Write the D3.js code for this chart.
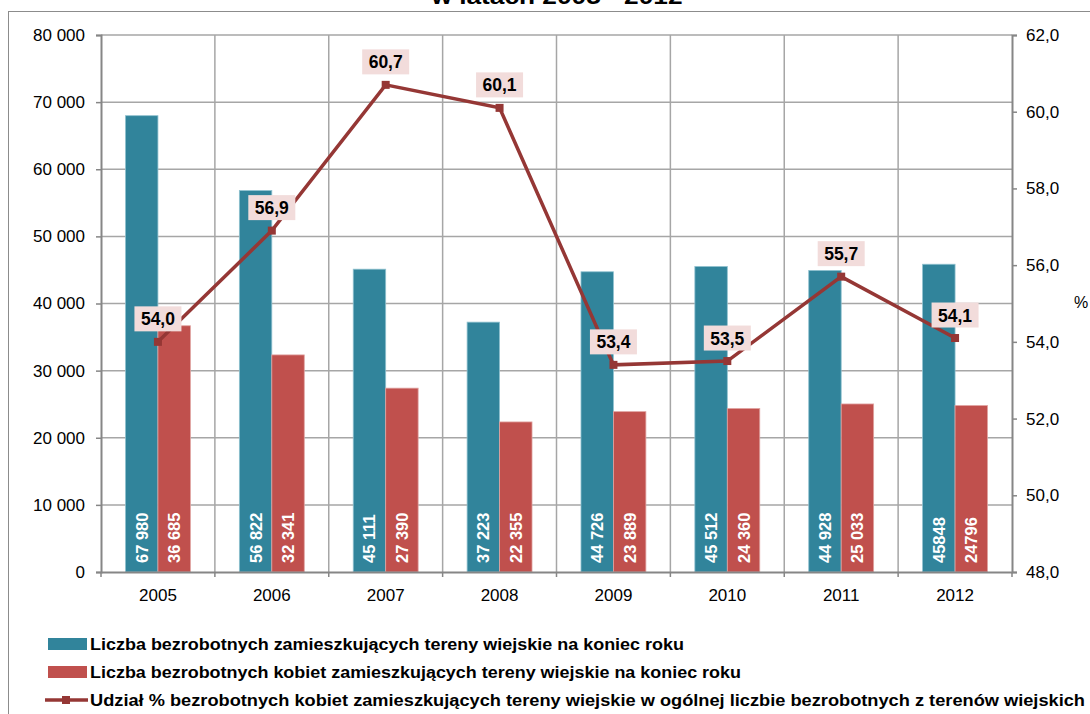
<!DOCTYPE html>
<html>
<head>
<meta charset="utf-8">
<script src="https://cdn.jsdelivr.net/npm/d3@7"></script>
<style>
  body { margin: 0; background: #fff; }
  svg { display: block; font-family: "Liberation Sans", Arial, sans-serif; }
</style>
</head>
<body>
<div id="chart"></div>
<script>
// data
var years = ["2005", "2006", "2007", "2008", "2009", "2010", "2011", "2012"];
var allRural = [67980, 56822, 45111, 37223, 44726, 45512, 44928, 45848];
var womenRural = [36685, 32341, 27390, 22355, 23889, 24360, 25033, 24796];
var womenShare = [54.0, 56.9, 60.7, 60.1, 53.4, 53.5, 55.7, 54.1];
var allLabels = ["67 980", "56 822", "45 111", "37 223", "44 726", "45 512", "44 928", "45848"];
var womenLabels = ["36 685", "32 341", "27 390", "22 355", "23 889", "24 360", "25 033", "24796"];
var leftTicks = [0, 10000, 20000, 30000, 40000, 50000, 60000, 70000, 80000];
var rightTicks = [48, 50, 52, 54, 56, 58, 60, 62];
var seriesNames = [
	"Liczba bezrobotnych  zamieszkujących tereny wiejskie na koniec roku",
	"Liczba bezrobotnych  kobiet zamieszkujących tereny wiejskie na koniec roku",
	"Udział % bezrobotnych  kobiet zamieszkujących tereny wiejskie w ogólnej  liczbie  bezrobotnych  z terenów wiejskich"
];
var titleText = "w latach 2005 - 2012";

var W = 1090, H = 714;
var plot = {left: 101, right: 1012, top: 35, bottom: 572};

var teal = "#31849b", red = "#c0504d", lineCol = "#953735",
	gridCol = "#a6a6a6", axisCol = "#868686";

var pl = d3.formatLocale({decimal: ",", thousands: "\u00a0", grouping: [3]});

var svg = d3.select("#chart").append("svg")
	.attr("width", W)
	.attr("height", H);

// outer frame (partly cut off in the original)
svg.append("rect")
	.attr("x", 8.5).attr("y", 11.5)
	.attr("width", 1200).attr("height", 900)
	.attr("fill", "none")
	.attr("stroke", "#8c8c8c");

// title, cut off at the top as in the original
svg.append("text")
	.attr("x", 557).attr("y", 4)
	.attr("text-anchor", "middle")
	.attr("font-size", 22)
	.attr("font-weight", "bold")
	.attr("textLength", 251)
	.attr("lengthAdjust", "spacingAndGlyphs")
	.text(titleText);

var x = d3.scaleBand().domain(years).range([plot.left, plot.right]);
var yL = d3.scaleLinear().domain([0, 80000]).range([plot.bottom, plot.top]);
var yR = d3.scaleLinear().domain([48, 62]).range([plot.bottom, plot.top]);

// horizontal gridlines
svg.append("g").selectAll("line")
	.data(leftTicks.slice(1))
	.enter().append("line")
	.attr("x1", plot.left).attr("x2", plot.right)
	.attr("y1", function(d) { return yL(d); })
	.attr("y2", function(d) { return yL(d); })
	.attr("stroke", gridCol).attr("stroke-width", 1.5);

// vertical gridlines at category borders
svg.append("g").selectAll("line")
	.data(years.slice(1))
	.enter().append("line")
	.attr("x1", function(d) { return x(d); })
	.attr("x2", function(d) { return x(d); })
	.attr("y1", plot.top).attr("y2", plot.bottom)
	.attr("stroke", gridCol).attr("stroke-width", 1.5);

// bars
var barW = x.bandwidth() * 0.285;

var groups = svg.append("g").selectAll("g")
	.data(years)
	.enter().append("g");

groups.append("rect")
	.attr("x", function(d) { return x(d) + x.bandwidth() / 2 - barW; })
	.attr("y", function(d, i) { return yL(allRural[i]); })
	.attr("width", barW)
	.attr("height", function(d, i) { return plot.bottom - yL(allRural[i]); })
	.attr("fill", teal)
	.attr("stroke", "#8fc1cf").attr("stroke-width", 0.8);

groups.append("rect")
	.attr("x", function(d) { return x(d) + x.bandwidth() / 2; })
	.attr("y", function(d, i) { return yL(womenRural[i]); })
	.attr("width", barW)
	.attr("height", function(d, i) { return plot.bottom - yL(womenRural[i]); })
	.attr("fill", red)
	.attr("stroke", "#e0a3a1").attr("stroke-width", 0.8);

// labels inside bars
function barLabel(labels, offset) {
	groups.append("text")
		.attr("transform", function(d) {
			var cx = x(d) + x.bandwidth() / 2 + offset * barW + barW / 2 + 6;
			return "translate(" + cx + "," + (plot.bottom - 9) + ") rotate(-90)";
		})
		.attr("fill", "#fff")
		.attr("font-size", 16.5)
		.attr("font-weight", "bold")
		.text(function(d, i) { return labels[i]; });
}
barLabel(allLabels, -1);
barLabel(womenLabels, 0);

// left axis
var leftAxis = svg.append("g")
	.attr("transform", "translate(" + plot.left + ",0)")
	.call(d3.axisLeft(yL).tickValues(leftTicks).tickSizeOuter(0).tickSize(5).tickPadding(11)
		.tickFormat(pl.format(",d")));

// right axis
var rightAxis = svg.append("g")
	.attr("transform", "translate(" + plot.right + ",0)")
	.call(d3.axisRight(yR).tickValues(rightTicks).tickSizeOuter(0).tickSize(5).tickPadding(9)
		.tickFormat(pl.format(".1f")));

// bottom axis
var bottomAxis = svg.append("g")
	.attr("transform", "translate(0," + plot.bottom + ")")
	.call(d3.axisBottom(x).tickSize(0).tickSizeOuter(0).tickPadding(17));

svg.append("g").selectAll("line")
	.data(years.concat(["end"]))
	.enter().append("line")
	.attr("x1", function(d) { return d === "end" ? plot.right : x(d); })
	.attr("x2", function(d) { return d === "end" ? plot.right : x(d); })
	.attr("y1", plot.bottom).attr("y2", plot.bottom + 5)
	.attr("stroke", axisCol).attr("stroke-width", 1.5);

[leftAxis, rightAxis, bottomAxis].forEach(function(a) {
	a.select(".domain").attr("stroke", axisCol).attr("stroke-width", 2);
	a.selectAll(".tick line").attr("stroke", axisCol).attr("stroke-width", 1.5);
	a.selectAll(".tick text")
		.attr("fill", "#000")
		.attr("font-size", 17)
		.attr("font-family", "'Liberation Sans', Arial, sans-serif");
});

svg.append("text")
	.attr("x", 1081).attr("y", 308)
	.attr("text-anchor", "middle")
	.attr("font-size", 16)
	.text("%");

// share line
var cx = function(i) { return x(years[i]) + x.bandwidth() / 2; };

var line = d3.line()
	.x(function(d, i) { return cx(i); })
	.y(function(d) { return yR(d); });

svg.append("path")
	.datum(womenShare)
	.attr("d", line)
	.attr("fill", "none")
	.attr("stroke", lineCol)
	.attr("stroke-width", 3.5);

svg.append("g").selectAll("rect")
	.data(womenShare)
	.enter().append("rect")
	.attr("x", function(d, i) { return cx(i) - 4; })
	.attr("y", function(d) { return yR(d) - 4; })
	.attr("width", 8).attr("height", 8)
	.attr("fill", lineCol);

// share labels
var lab = svg.append("g").selectAll("g")
	.data(womenShare)
	.enter().append("g")
	.attr("transform", function(d, i) {
		return "translate(" + cx(i) + "," + (yR(d) - 23) + ")";
	});

lab.append("rect")
	.attr("x", -23.5).attr("y", -12.5)
	.attr("width", 47).attr("height", 25)
	.attr("fill", "#f2dcdb");

lab.append("text")
	.attr("text-anchor", "middle")
	.attr("y", 6.5)
	.attr("font-size", 17.5)
	.attr("font-weight", "bold")
	.text(function(d) { return pl.format(".1f")(d); });

// legend
var legendY = [644, 672, 700];
var legendW = [594, 651, 995];

var leg = svg.append("g").selectAll("g")
	.data(seriesNames)
	.enter().append("g")
	.attr("transform", function(d, i) { return "translate(0," + legendY[i] + ")"; });

leg.each(function(d, i) {
	var g = d3.select(this);
	if (i < 2) {
		g.append("rect")
			.attr("x", 48).attr("y", -6)
			.attr("width", 39).attr("height", 12)
			.attr("fill", i === 0 ? teal : red);
	} else {
		g.append("line")
			.attr("x1", 45).attr("x2", 88)
			.attr("y1", 0).attr("y2", 0)
			.attr("stroke", lineCol).attr("stroke-width", 3.5);
		g.append("rect")
			.attr("x", 62).attr("y", -4)
			.attr("width", 8).attr("height", 8)
			.attr("fill", lineCol);
	}
	g.append("text")
		.attr("x", 90).attr("y", 6)
		.attr("font-size", 16.5)
		.attr("font-weight", "bold")
		.attr("textLength", legendW[i])
		.attr("lengthAdjust", "spacingAndGlyphs")
		.text(d);
});
</script>
</body>
</html>
